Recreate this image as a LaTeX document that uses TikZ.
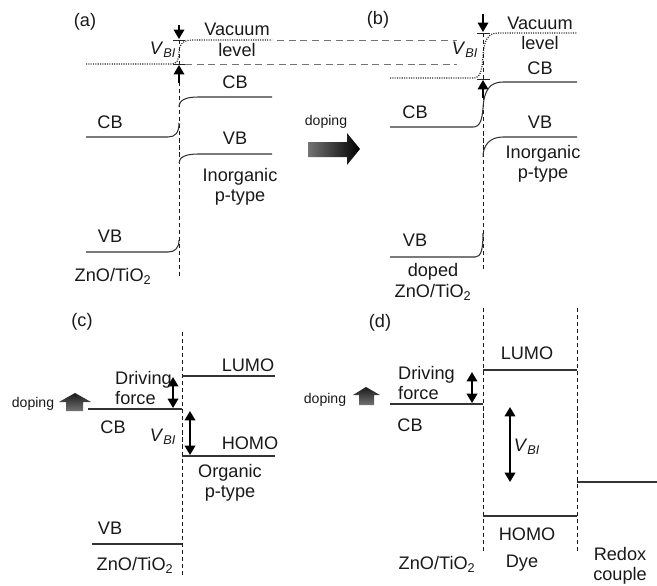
\documentclass[tikz,border=0pt]{standalone}
\usepackage{fontspec}
\setmainfont{Liberation Sans}
\usetikzlibrary{arrows.meta}

\newcommand{\vbi}{\textit{V}\textsubscript{\textit{BI}}}
\newcommand{\znotio}{ZnO/TiO\textsubscript{2}}

\begin{document}
\begin{tikzpicture}[
    x=0.03cm, y=-0.03cm,
    >={Triangle[width=9pt,length=8pt]},
    every node/.style={font=\fontsize{15.5}{17.5}\selectfont, inner sep=0pt, text=black!90, align=center},
    small/.style={font=\fontsize{12}{13}\selectfont},
    band/.style={black!80, line width=0.9pt},
    vac/.style={black!85, dash pattern=on 0.9pt off 1.1pt, line width=1pt},
    guide/.style={black!55, dash pattern=on 6pt off 4pt, line width=0.7pt},
    iface/.style={black!90, dash pattern=on 3.5pt off 2.5pt, line width=0.8pt},
    tick/.style={black!85, line width=0.8pt},
    vbiarrow/.style={->, line width=1.4pt},
    force/.style={<->, line width=1.7pt},
]
\useasboundingbox (0,0) rectangle (657,585);

% ---------- (a) ----------
\node (lbla) at (85,22) {(a)};
\draw[iface] (179,40) -- (179,277);
\draw[vac] (86,64) -- (171,64) .. controls (177,64) and (179,60) .. (179,52)
    .. controls (179,44) and (183,40) .. (193,40) -- (272,40);
\draw[tick] (173,40) -- (185,40);
\draw[tick] (173,64) -- (185,64);
\coordinate (vtopA) at (179,25);
\coordinate (vtipA) at (179,39);
\coordinate (vbotA) at (179,83);
\coordinate (vbtpA) at (179,65);
\draw[vbiarrow] (vtopA) -- (vtipA);
\draw[vbiarrow] (vbotA) -- (vbtpA);
\draw[band] (86,137) -- (168,137) .. controls (175,137) and (179,133) .. (179,123);
\draw[band] (179,107) .. controls (179,100) and (186,97) .. (198,97) -- (272,97);
\draw[band] (179,163) .. controls (179,157) and (186,154) .. (198,154) -- (272,154);
\draw[band] (86,252) -- (168,252) .. controls (175,252) and (179,248) .. (179,240);
\node (vacA) at (237,29) {Vacuum};
\node (levA) at (237,50) {level};
\node (vbiA) at (163,50) {\vbi};
\node (cbAr) at (235,82) {CB};
\node (cbAl) at (110,122) {CB};
\node (vbAr) at (235,138) {VB};
\node (inoA) at (240,187) {Inorganic\\p-type};
\node (vbAl) at (110,236) {VB};
\node (znoA) at (113,276) {\znotio};

% guide lines between (a) and (b)
\draw[guide] (277,40) -- (457,40);
\draw[guide] (185,64) -- (457,64);

% doping arrow (a) -> (b)
\node[small] (dopAB) at (326,122) {doping};
\shade[left color=black!55, right color=black]
    (308,142) -- (347,142) -- (347,133) -- (360,149) -- (347,165) -- (347,157) -- (308,157) -- cycle;

% ---------- (b) ----------
\node (lblb) at (378,20) {(b)};
\draw[iface] (483,33) -- (483,270);
\draw[vac] (390,78) -- (473,78) .. controls (480,78) and (482,72) .. (483,56)
    .. controls (484,40) and (488,33) .. (498,33) -- (577,33);
\draw[tick] (477,33) -- (490,33);
\draw[tick] (477,79) -- (490,79);
\coordinate (vtopB) at (483,14);
\coordinate (vtipB) at (483,32);
\coordinate (vbotB) at (483,98);
\coordinate (vbtpB) at (483,80);
\draw[vbiarrow] (vtopB) -- (vtipB);
\draw[vbiarrow] (vbotB) -- (vbtpB);
\draw[band] (390,127) -- (473,127) .. controls (480,127) and (482,120) .. (483,108)
    .. controls (484,90) and (490,82) .. (503,82) -- (577,82);
\draw[band] (483,157) .. controls (483,145) and (490,137) .. (503,137) -- (577,137);
\draw[band] (390,257) -- (475,257) .. controls (481,257) and (483,250) .. (483,233);
\node (vacB) at (540,23) {Vacuum};
\node (levB) at (540,43) {level};
\node (vbiB) at (465,50) {\vbi};
\node (cbBr) at (540,68) {CB};
\node (cbBl) at (415,112) {CB};
\node (vbBr) at (540,122) {VB};
\node (inoB) at (543,164) {Inorganic\\p-type};
\node (vbBl) at (415,240) {VB};
\node (znoB) at (433,282) {doped\\\znotio};

% ---------- (c) ----------
\node (lblc) at (82,322) {(c)};
\draw[iface] (182,332) -- (182,575);
\draw[band] (182,376) -- (275,376);
\draw[band] (88,409) -- (182,409);
\draw[band] (182,456) -- (275,456);
\draw[band] (92,544) -- (182,544);
\coordinate (dfTopC) at (173,377);
\coordinate (dfBotC) at (173,408);
\coordinate (vbiTopC) at (190,411);
\coordinate (vbiBotC) at (190,455);
\draw[force] (dfTopC) -- (dfBotC);
\draw[force] (vbiTopC) -- (vbiBotC);
\node (lumoC) at (248,365) {LUMO};
\node[anchor=west, align=left] (dfC) at (115,388) {Driving\\force};
\node (cbC) at (113,427) {CB};
\node (vbiC) at (163,437) {\vbi};
\node (homoC) at (250,443) {HOMO};
\node (orgC) at (230,483) {Organic\\p-type};
\node (vbC) at (110,528) {VB};
\node (znoC) at (135,565) {\znotio};
\node[small] (dopC) at (33,404) {doping};
\shade[top color=black!90, bottom color=black!55]
    (66,411) -- (66,402) -- (59,402) -- (75,393) -- (91,402) -- (83,402) -- (83,411) -- cycle;

% ---------- (d) ----------
\node (lbld) at (380,323) {(d)};
\draw[iface] (483,308) -- (483,552);
\draw[iface] (577,308) -- (577,552);
\draw[band] (483,370) -- (577,370);
\draw[band] (390,404) -- (483,404);
\draw[band] (483,516) -- (577,516);
\draw[band] (577,482) -- (657,482);
\coordinate (dfTopD) at (472,372);
\coordinate (dfBotD) at (472,403);
\coordinate (vbiTopD) at (510,407);
\coordinate (vbiBotD) at (510,482);
\draw[force] (dfTopD) -- (dfBotD);
\draw[force] (vbiTopD) -- (vbiBotD);
\node (lumoD) at (527,353) {LUMO};
\node[anchor=west, align=left] (dfD) at (398,383) {Driving\\force};
\node (cbD) at (410,425) {CB};
\node (vbiD) at (527,447) {\vbi};
\node (homoD) at (527,534) {HOMO};
\node (znoD) at (437,564) {\znotio};
\node (dyeD) at (522,563) {Dye};
\node (redD) at (620,566) {Redox\\couple};
\node[small] (dopD) at (325,400) {doping};
\shade[top color=black!90, bottom color=black!55]
    (359,405) -- (359,395) -- (353,395) -- (366,387) -- (380,395) -- (374,395) -- (374,405) -- cycle;

\end{tikzpicture}
\end{document}
